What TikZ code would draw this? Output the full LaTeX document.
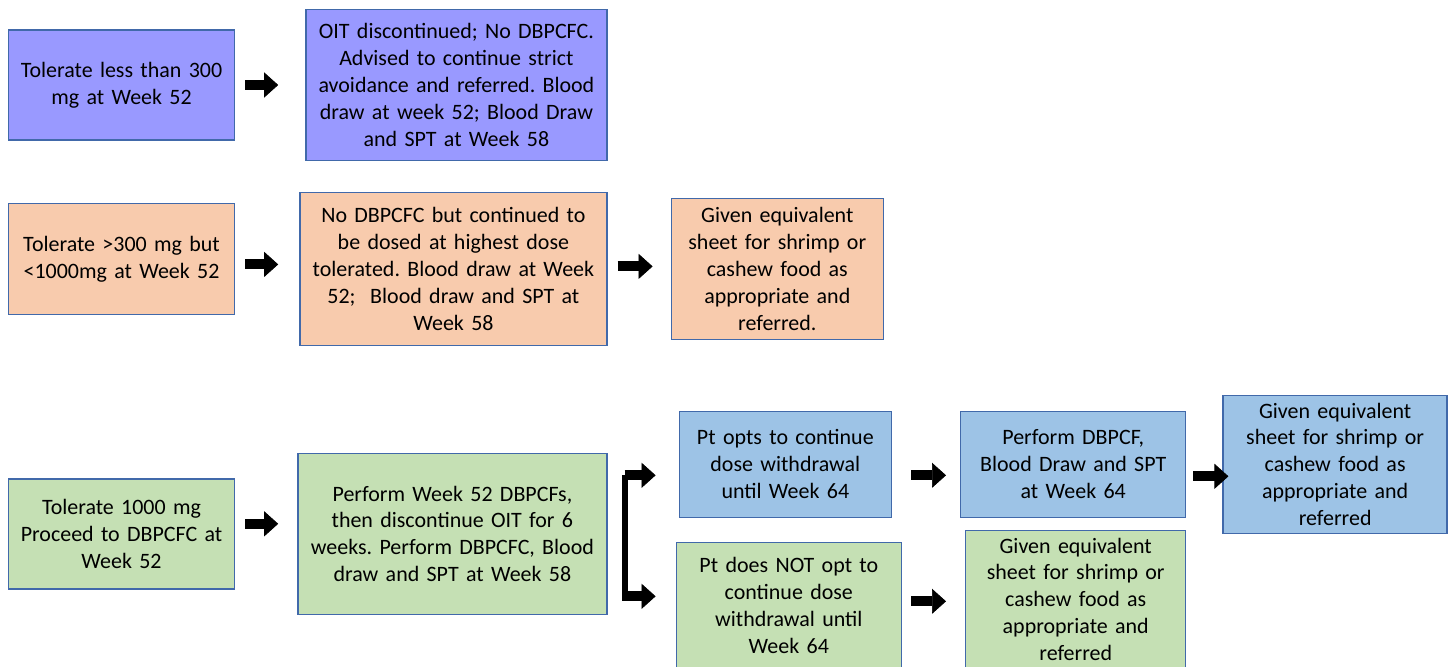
\documentclass[tikz,border=0pt]{standalone}
\usepackage{fontspec}
\setmainfont{Carlito}
\frenchspacing
\usetikzlibrary{arrows.meta, positioning, calc}
\definecolor{ptlilac}{RGB}{153,153,255}
\definecolor{ptpeach}{RGB}{248,203,173}
\definecolor{ptgreen}{RGB}{197,224,180}
\definecolor{ptblue}{RGB}{157,195,230}
\definecolor{ptedge}{RGB}{65,105,170}

\begin{document}
\begin{tikzpicture}[node distance=1.3cm,
  box/.style={rectangle, draw=ptedge, line width=0.8pt, inner xsep=0.02cm, inner ysep=0.1cm, align=center, font=\fontsize{12.5}{15.3}\selectfont},
  arr/.style={line width=0.2cm, -{Triangle[length=0.28cm, width=0.5cm, line width=0.4pt]}},
  bar/.style={line width=0.12cm}
]
\useasboundingbox (0,0) rectangle (28.96,-13.34);
% row 1
\node[box, fill=ptlilac, text width=4.48cm, minimum height=2.2cm] (low) at (2.43,-1.7) {Tolerate less than 300\\mg at Week 52};
\node[box, fill=ptlilac, text width=5.98cm, minimum height=3.02cm, right=1.4cm of low] (lowplan) {OIT discontinued; No DBPCFC.\\Advised to continue strict\\avoidance and referred. Blood\\draw at week 52; Blood Draw\\and SPT at Week 58};
% row 2
\node[box, fill=ptpeach, text width=4.48cm, minimum height=2.22cm, below=1.24cm of low] (mid) {Tolerate >300 mg but\\<1000mg at Week 52};
\node[box, fill=ptpeach, text width=6.1cm, minimum height=3.06cm, right=1.28cm of mid, yshift=-0.2cm] (midplan) {No DBPCFC but continued to\\be dosed at highest dose\\tolerated. Blood draw at Week\\52;\ \ Blood draw and SPT at\\Week 58};
\node[box, fill=ptpeach, text width=4.2cm, minimum height=2.82cm, right=1.26cm of midplan] (midref) {Given equivalent\\sheet for shrimp or\\cashew food as\\appropriate and\\referred.};
% row 3
\node[box, fill=ptgreen, text width=4.48cm, minimum height=2.2cm, below=3.26cm of mid] (high) {Tolerate 1000 mg\\Proceed to DBPCFC at\\Week 52};
\node[box, fill=ptgreen, text width=6.14cm, minimum height=3.22cm, right=1.24cm of high] (highplan) {Perform Week 52 DBPCFs,\\then discontinue OIT for 6\\weeks. Perform DBPCFC, Blood\\draw and SPT at Week 58};
\node[box, fill=ptblue, text width=4.2cm, minimum height=2.12cm, right=1.42cm of highplan, yshift=1.39cm] (optin) {Pt opts to continue\\dose withdrawal\\until Week 64};
\node[box, fill=ptblue, text width=4.46cm, minimum height=2.12cm, right=1.36cm of optin] (optchal) {Perform DBPCF,\\Blood Draw and SPT\\at Week 64};
\node[box, fill=ptblue, text width=4.44cm, minimum height=2.76cm, right=0.72cm of optchal] (optref) {Given equivalent\\sheet for shrimp or\\cashew food as\\appropriate and\\referred};
\node[box, fill=ptgreen, text width=4.46cm, minimum height=2.52cm, right=1.36cm of highplan, yshift=-1.43cm] (optout) {Pt does NOT opt to\\continue dose\\withdrawal until\\Week 64};
\node[box, fill=ptgreen, text width=4.36cm, minimum height=2.76cm, right=1.26cm of optout, yshift=0.12cm] (outref) {Given equivalent\\sheet for shrimp or\\cashew food as\\appropriate and\\referred};
% fork
\coordinate (forkup) at ($(highplan.east)+(0.34,1.17)$);
\coordinate (forkdown) at ($(highplan.east)+(0.34,-1.25)$);
\draw[bar, shorten >=-0.1cm] (forkup) -- (forkdown);
% arrows
\draw[arr, shorten <=0.2cm, shorten >=0.54cm] (low.east) -- (low.east -| lowplan.west);
\draw[arr, shorten <=0.2cm, shorten >=0.42cm] ($(mid.east)+(0,-0.11)$) -- ($(mid.east -| midplan.west)+(0,-0.11)$);
\draw[arr, shorten <=0.2cm, shorten >=0.36cm] ($(midplan.east)+(0,0.05)$) -- ($(midplan.east -| midref.west)+(0,0.05)$);
\draw[arr, shorten <=0.2cm, shorten >=0.38cm] ($(high.east)+(0,0.2)$) -- ($(high.east -| highplan.west)+(0,0.2)$);
\draw[arr, shorten >=0.46cm] (forkup) -- (forkup -| optin.west);
\draw[arr, shorten >=0.4cm] (forkdown) -- (forkdown -| optout.west);
\draw[arr, shorten <=0.38cm, shorten >=0.28cm] ($(optin.east)+(0,-0.22)$) -- ($(optin.east -| optchal.west)+(0,-0.22)$);
\draw[arr, shorten <=0.14cm, shorten >=-0.12cm] ($(optchal.east)+(0,-0.24)$) -- ($(optchal.east -| optref.west)+(0,-0.24)$);
\draw[arr, shorten <=0.18cm, shorten >=0.38cm] ($(optout.east)+(0,0.08)$) -- ($(optout.east -| outref.west)+(0,0.08)$);
\end{tikzpicture}
\end{document}
